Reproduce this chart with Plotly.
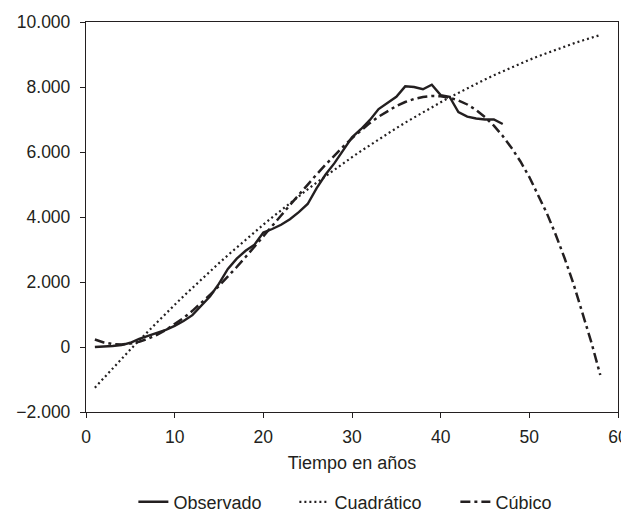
import plotly.graph_objects as go

# Observed series (years 1..47)
obs_x = list(range(1, 48))
obs_y = [0, 10, 30, 60, 130, 250, 340, 420, 530, 650,
         800, 980, 1280, 1560, 1950, 2400, 2720, 2960, 3150, 3520,
         3630, 3760, 3930, 4150, 4400, 4880, 5300, 5650, 6050, 6450,
         6700, 6980, 7320, 7500, 7700, 8020, 8000, 7930, 8070, 7750,
         7700, 7230, 7090, 7030, 7000, 7000, 6860]

# Quadratic fit values (years 1..58)
fit_x = list(range(1, 59))
quad_y = [-1250, -951, -657, -366, -79, 205, 484, 760, 1031, 1299,
          1563, 1823, 2079, 2331, 2580, 2824, 3065, 3302, 3534, 3763,
          3989, 4210, 4427, 4641, 4851, 5056, 5258, 5456, 5651, 5841,
          6027, 6210, 6389, 6564, 6735, 6902, 7065, 7224, 7380, 7531,
          7679, 7823, 7963, 8099, 8232, 8360, 8485, 8605, 8722, 8835,
          8944, 9049, 9151, 9248, 9342, 9431, 9517, 9599]

# Cubic fit values (years 1..58)
cub_y = [230, 141, 91, 80, 104, 163, 254, 374, 522, 696,
         894, 1113, 1352, 1608, 1880, 2165, 2462, 2768, 3081, 3400,
         3722, 4045, 4367, 4686, 5000, 5307, 5605, 5892, 6165, 6424,
         6665, 6887, 7087, 7264, 7415, 7538, 7632, 7695, 7723, 7717,
         7671, 7587, 7462, 7292, 7074, 6809, 6493, 6125, 5708, 5229,
         4689, 4100, 3439, 2716, 1927, 1069, 140, -861]

names = ["Observado", "Cuadrático", "Cúbico"]
x_ticks = [0, 10, 20, 30, 40, 50, 60]
y_ticks = [-2000, 0, 2000, 4000, 6000, 8000, 10000]

ink = "#231f20"

fig = go.Figure()
fig.add_trace(go.Scatter(x=obs_x, y=obs_y, mode="lines", name=names[0],
                         line=dict(color=ink, width=2.4)))
fig.add_trace(go.Scatter(x=fit_x, y=quad_y, mode="lines", name=names[1],
                         line=dict(color=ink, width=2.2, dash="2px,3px")))
fig.add_trace(go.Scatter(x=fit_x, y=cub_y, mode="lines", name=names[2],
                         line=dict(color=ink, width=2.5, dash="10px,4px,3px,4px")))

axis_common = dict(showline=True, linecolor=ink, linewidth=1.3, mirror=True,
                   showgrid=False, zeroline=False, ticks="outside",
                   ticklen=5, tickcolor=ink, tickwidth=1.3, automargin=False,
                   tickfont=dict(size=17.5, color=ink))

fig.update_xaxes(range=[0, 60], tickvals=x_ticks, ticklabelstandoff=4,
                 title=dict(text="Tiempo en años", font=dict(size=18, color=ink), standoff=10),
                 **axis_common)
fig.update_yaxes(range=[-2000, 10000], tickvals=y_ticks, tickformat=",d",
                 ticklabelstandoff=6, **axis_common)

fig.update_layout(
    width=640, height=530,
    margin=dict(l=78, r=30, t=14, b=126),
    paper_bgcolor="white", plot_bgcolor="white",
    separators=",.",
    font=dict(family="Liberation Sans, Arial, sans-serif", size=18, color=ink),
    showlegend=True,
    legend=dict(orientation="h", x=0.543, xanchor="center", y=-0.231, yanchor="middle",
                font=dict(size=18, color=ink), entrywidth=116, entrywidthmode="pixels",
                tracegroupgap=0),
)

fig.write_html("out.html")
